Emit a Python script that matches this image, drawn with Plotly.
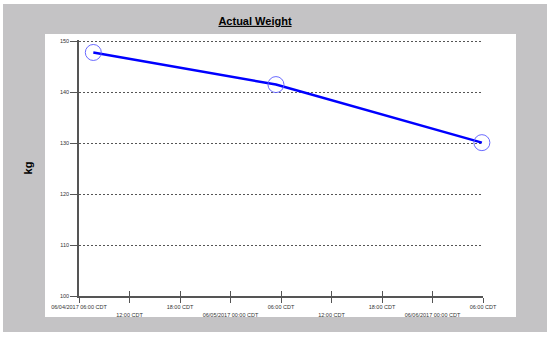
import plotly.graph_objects as go

times = ["2017-06-04 07:42", "2017-06-05 05:24", "2017-06-06 05:52"]
weights = [147.8, 141.5, 130.1]

tick_vals = ["2017-06-04 06:00", "2017-06-04 12:00", "2017-06-04 18:00",
             "2017-06-05 00:00", "2017-06-05 06:00", "2017-06-05 12:00",
             "2017-06-05 18:00", "2017-06-06 00:00", "2017-06-06 06:00"]
tick_text = ["06/04/2017 06:00 CDT", "12:00 CDT", "18:00 CDT",
             "06/05/2017 00:00 CDT", "06:00 CDT", "12:00 CDT",
             "18:00 CDT", "06/06/2017 00:00 CDT", "06:00 CDT"]
y_ticks = [100, 110, 120, 130, 140, 150]

W, H = 550, 338
L, R, T, B = 79, 483, 40, 296
pw, ph = R - L, B - T

def px(x):
    return (x - L) / pw

def py(y):
    return (B - y) / ph

labels = [t if i % 2 == 0 else "<br>" + t for i, t in enumerate(tick_text)]

fig = go.Figure()
fig.add_trace(go.Scatter(
    x=times, y=weights, mode="lines+markers",
    line=dict(color="#0000ff", width=2.5),
    marker=dict(symbol="circle-open", size=16, color="rgba(90,90,255,0.9)",
                line=dict(width=1)),
    showlegend=False, cliponaxis=False,
))
# overlay axis for inward tick half
fig.add_trace(go.Scatter(x=[tick_vals[0]], y=[100], xaxis="x2", mode="markers",
                         marker=dict(opacity=0), showlegend=False, hoverinfo="skip"))

fig.update_layout(
    width=W, height=H,
    margin=dict(l=L, r=W - R, t=T, b=H - B, autoexpand=False),
    paper_bgcolor="white",
    plot_bgcolor="rgba(0,0,0,0)",
    font=dict(family="Liberation Sans, Arial, sans-serif"),
    title=dict(text="<u><b>Actual Weight</b></u>", x=255 / W, xanchor="center",
               y=1 - 21 / H, yanchor="middle", xref="container", yref="container",
               font=dict(size=11, color="black"), automargin=False),
    shapes=[
        dict(type="rect", xref="paper", yref="paper", layer="below",
             x0=px(3), x1=px(547), y0=py(332), y1=py(4),
             fillcolor="#c4c3c5", line=dict(width=0)),
        dict(type="rect", xref="paper", yref="paper", layer="below",
             x0=px(45), x1=px(516), y0=py(317), y1=py(34),
             fillcolor="white", line=dict(width=0)),
    ],
    xaxis=dict(
        type="date", range=[tick_vals[0], tick_vals[-1]], automargin=False,
        tickmode="array", tickvals=tick_vals, ticktext=labels,
        ticks="outside", ticklen=5, tickcolor="#555", tickwidth=1,
        showline=True, linecolor="#555", linewidth=1.5,
        showgrid=False, zeroline=False,
        tickfont=dict(size=5.5, color="#333"), tickangle=0,
    ),
    xaxis2=dict(
        type="date", range=[tick_vals[0], tick_vals[-1]], overlaying="x",
        side="bottom", anchor="y", automargin=False,
        tickmode="array", tickvals=tick_vals, showticklabels=False,
        ticks="inside", ticklen=5, tickcolor="#555", tickwidth=1,
        showline=False, showgrid=False, zeroline=False,
    ),
    yaxis=dict(
        range=[100, 150.25], tickmode="array", tickvals=y_ticks, automargin=False,
        ticks="outside", ticklen=7, tickcolor="#555", tickwidth=1,
        showline=True, linecolor="#555", linewidth=1.5,
        showgrid=True, gridcolor="#555", griddash="2px,2px", gridwidth=1,
        zeroline=False, tickfont=dict(size=5.5, color="#333"),
        title=dict(text="<b>kg</b>", font=dict(size=11, color="black"), standoff=25),
    ),
)

fig.write_html("out.html", config={"displayModeBar": False},
               post_script="document.body.style.margin='0';document.body.style.overflow='hidden';")
